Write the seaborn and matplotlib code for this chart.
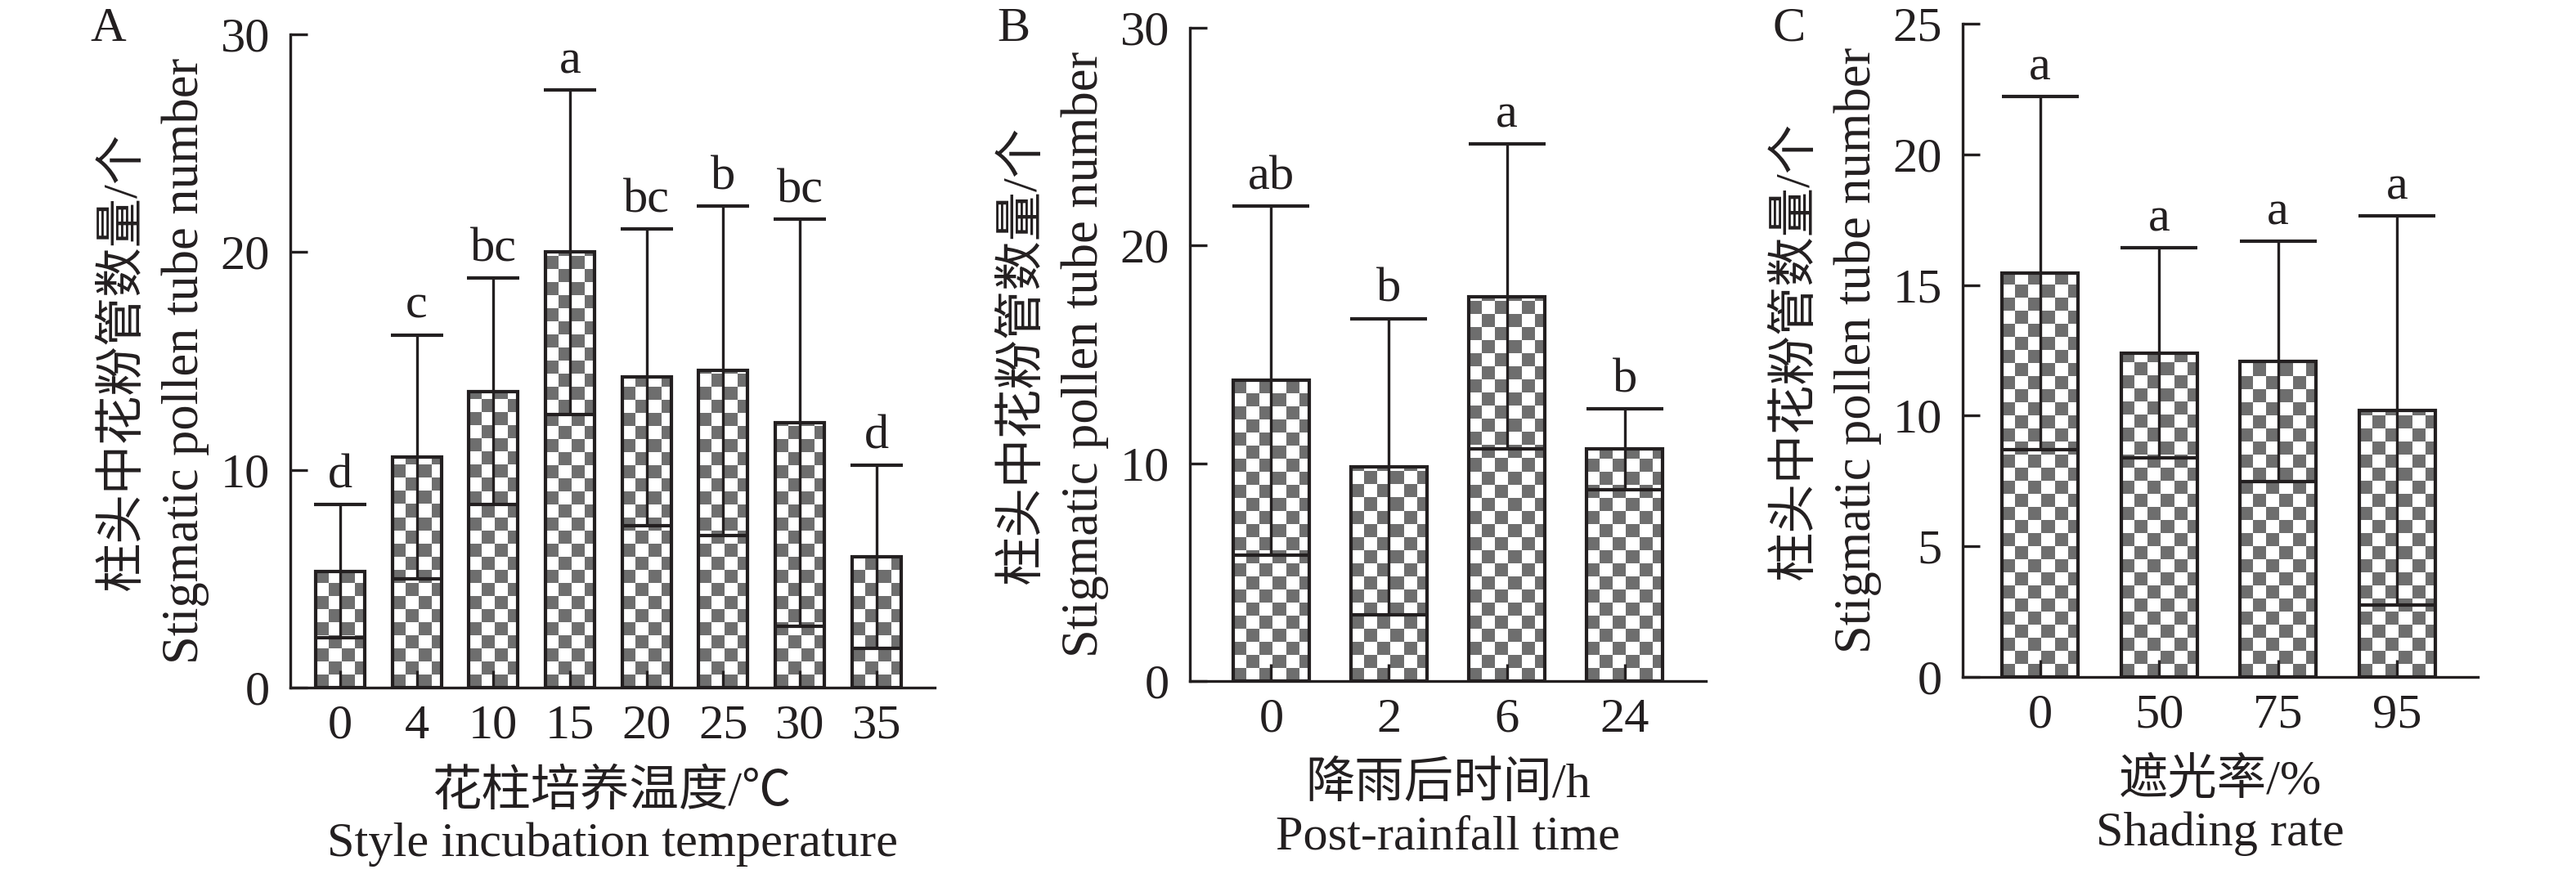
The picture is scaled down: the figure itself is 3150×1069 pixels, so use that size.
import numpy as np
import pandas as pd
import matplotlib
matplotlib.use("Agg")
import matplotlib.pyplot as plt
import seaborn as sns
from matplotlib.colors import ListedColormap

# ---------------- data ----------------
temp_cats = ["0", "4", "10", "15", "20", "25", "30", "35"]
temp_mean = [5.35, 10.6, 13.6, 20.0, 14.25, 14.55, 12.15, 6.0]
temp_sd = [3.05, 5.6, 5.2, 7.45, 6.8, 7.55, 9.35, 4.2]
temp_letters = ["d", "c", "bc", "a", "bc", "b", "bc", "d"]

rain_cats = ["0", "2", "6", "24"]
rain_mean = [13.8, 9.85, 17.65, 10.65]
rain_sd = [8.0, 6.8, 7.0, 1.85]
rain_letters = ["ab", "b", "a", "b"]

shade_cats = ["0", "50", "75", "95"]
shade_mean = [15.45, 12.4, 12.07, 10.2]
shade_sd = [6.75, 4.03, 4.6, 7.45]
shade_letters = ["a", "a", "a", "a"]

ylab_cn = "柱头中花粉管数量/个"
ylab_en = "Stigmatic pollen tube number"

# ---------------- style ----------------
INK = "#231f20"
sns.set_theme(style="ticks")
plt.rcParams["font.family"] = ["Liberation Serif", "Noto Sans CJK SC", "DejaVu Sans"]
plt.rcParams.update({
    "font.size": 14.5,
    "text.color": INK,
    "axes.labelcolor": INK,
    "axes.edgecolor": INK,
    "xtick.color": INK,
    "ytick.color": INK,
    "axes.linewidth": 0.8,
})

W, H, DPI = 3150, 1069, 300
fig = plt.figure(figsize=(W / DPI, H / DPI), dpi=DPI)


def px_axes(l, r, t, b):
    return fig.add_axes([l / W, (H - b) / H, (r - l) / W, (b - t) / H])


panels = [
    dict(rect=(355, 1143, 42, 841), cats=temp_cats, mean=temp_mean, sd=temp_sd,
         letters=temp_letters, ylim=30, yticks=[0, 10, 20, 30], xlim=(-0.65, 7.76),
         cap=7.7, xlabel="花柱培养温度/℃\nStyle incubation temperature", tag="A", tagx=110),
    dict(rect=(1455, 2086, 34, 833), cats=rain_cats, mean=rain_mean, sd=rain_sd,
         letters=rain_letters, ylim=30, yticks=[0, 10, 20, 30], xlim=(-0.69, 3.69),
         cap=11.3, xlabel="降雨后时间/h\nPost-rainfall time", tag="B", tagx=1219),
    dict(rect=(2400, 3030, 29, 828), cats=shade_cats, mean=shade_mean, sd=shade_sd,
         letters=shade_letters, ylim=25, yticks=[0, 5, 10, 15, 20, 25], xlim=(-0.65, 3.68),
         cap=11.3, xlabel="遮光率/%\nShading rate", tag="C", tagx=2168),
]

SQ = 16  # checker square size in pixels
cmap = ListedColormap(["#6e6e6e", "white"])

for P in panels:
    ax = px_axes(*P["rect"])
    axw = P["rect"][1] - P["rect"][0]
    df = pd.DataFrame({"cat": P["cats"], "mean": P["mean"]})
    sns.barplot(data=df, x="cat", y="mean", order=P["cats"], color="white",
                width=0.64, errorbar=None, ax=ax)
    ax.set_xlim(*P["xlim"])
    ax.set_ylim(0, P["ylim"])
    ax.set_yticks(P["yticks"])
    sns.despine(ax=ax)
    ax.set_axisbelow(False)

    # checkerboard fill clipped to each bar
    bb = ax.get_window_extent()
    x0, x1 = ax.get_xlim()
    y0, y1 = ax.get_ylim()
    ux = (x1 - x0) / bb.width * SQ
    uy = (y1 - y0) / bb.height * SQ
    for p in list(ax.patches):
        bx, bw, bh = p.get_x(), p.get_width(), p.get_height()
        nc = int(np.ceil(bw / ux)) + 1
        nr = int(np.ceil(bh / uy)) + 1
        grid = (np.add.outer(np.arange(nr), np.arange(nc)) % 2).astype(float)
        im = ax.imshow(grid, cmap=cmap, vmin=0, vmax=1, origin="lower",
                       extent=(bx, bx + nc * ux, 0, nr * uy),
                       interpolation="nearest", aspect="auto", zorder=1)
        im.set_clip_path(p)
        p.set_facecolor("none")
        p.set_edgecolor(INK)
        p.set_linewidth(1.0)
        p.set_zorder(1.5)
    ax.set_xlim(x0, x1)
    ax.set_ylim(y0, y1)

    pos = np.arange(len(P["cats"]))
    ax.errorbar(pos, P["mean"], yerr=P["sd"], fmt="none", ecolor=INK,
                elinewidth=0.8, capsize=P["cap"], capthick=1.0, zorder=3)
    for i, (m, s, lt) in enumerate(zip(P["mean"], P["sd"], P["letters"])):
        ax.annotate(lt, (i, m + s), xytext=(0, 5), textcoords="offset points",
                    ha="center", va="baseline", fontsize=14.5, color=INK)

    ax.tick_params(axis="both", direction="in", length=5, width=0.8, labelsize=14.5)
    ax.tick_params(axis="y", pad=6)
    ax.tick_params(axis="x", pad=5)
    ax.set_xlabel(P["xlabel"], fontsize=14.5, linespacing=1.2, labelpad=6)
    ax.set_ylabel("")

    # two-line y label: Chinese (outer) and English (inner)
    ax.text(-204 / axw, 0.5, ylab_cn, transform=ax.transAxes, rotation=90,
            ha="center", va="center", fontsize=14.5, color=INK)
    ax.text(-128 / axw, 0.5, ylab_en, transform=ax.transAxes, rotation=90,
            ha="center", va="center", fontsize=15, color=INK)

    fig.text(P["tagx"] / W, 1 - 50 / H, P["tag"], ha="left", va="baseline",
             fontsize=14.5, color=INK)

fig.savefig("out.png", dpi=DPI, facecolor="white")
